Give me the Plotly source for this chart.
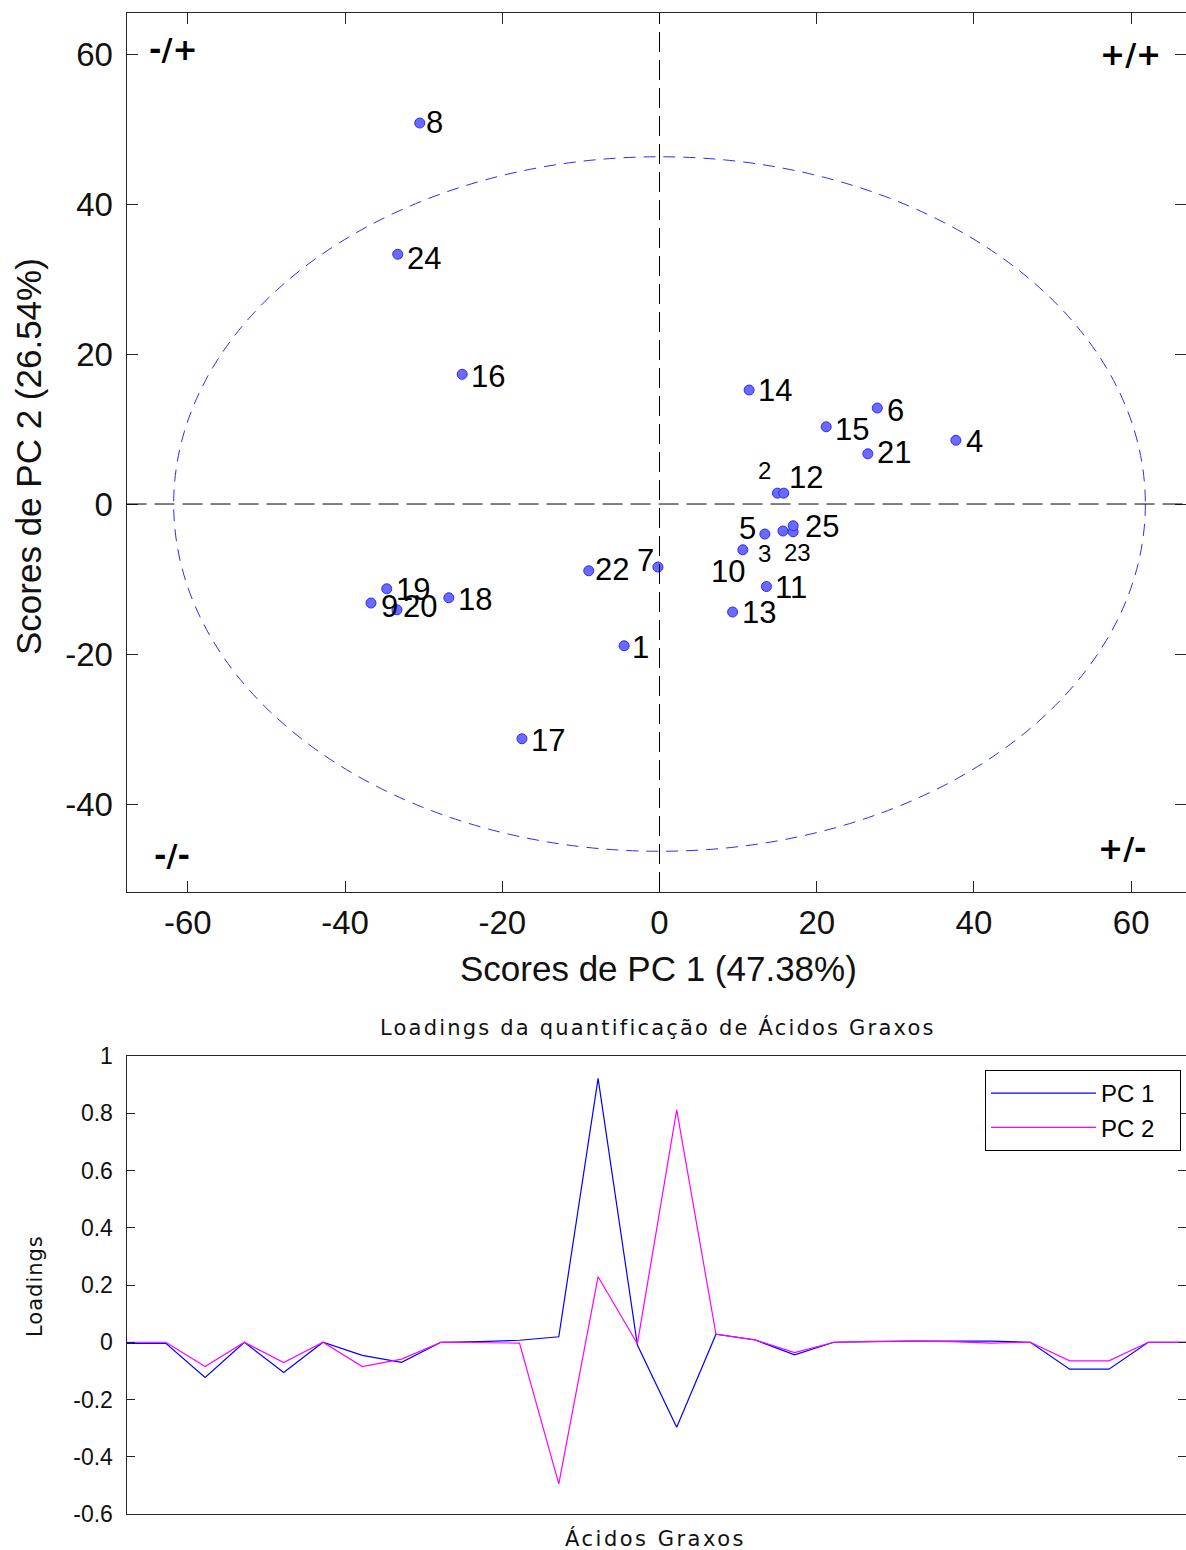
import plotly.graph_objects as go

# ---------------- data ----------------
sample_ids = [str(i) for i in range(1, 26)]
pc1_scores = [-4.5, 15.0, 15.7, 37.7, 13.4, 27.7, -0.2, -30.5, -36.7, 10.6,
              13.6, 15.8, 9.3, 11.4, 21.2, -25.1, -17.5, -26.8, -34.7, -33.4,
              26.5, -9.0, 17.0, -33.3, 17.0]
pc2_scores = [-18.9, 1.45, -3.6, 8.5, -4.0, 12.8, -8.4, 50.8, -13.2, -6.1,
              -11.0, 1.45, -14.4, 15.2, 10.3, 17.3, -31.3, -12.5, -11.3, -14.1,
              6.7, -8.9, -3.7, 33.3, -2.9]

ellipse_half_axes = [61.8, 46.3]  # confidence ellipse (PC1, PC2)

variables = list(range(1, 29))
pc1_loadings = [-0.004, -0.004, -0.123, 0.0, -0.106, 0.0, -0.046, -0.070, 0.0, 0.002,
                0.007, 0.019, 0.922, -0.010, -0.297, 0.028, 0.008, -0.044, 0.0, 0.003,
                0.004, 0.004, 0.004, 0.0, -0.094, -0.094, 0.0, 0.0]
pc2_loadings = [0.0, 0.0, -0.085, 0.0, -0.071, 0.0, -0.085, -0.059, 0.0, -0.002,
                -0.003, -0.495, 0.229, -0.005, 0.812, 0.028, 0.008, -0.036, 0.0, 0.003,
                0.004, 0.002, -0.003, 0.0, -0.065, -0.065, 0.0, 0.0]

score_ticks = [-60, -40, -20, 0, 20, 40, 60]
score_yticks = [-40, -20, 0, 20, 40, 60]
loading_ticks = [-0.6, -0.4, -0.2, 0, 0.2, 0.4, 0.6, 0.8, 1]
loading_ticklabels = ["-0.6", "-0.4", "-0.2", "0", "0.2", "0.4", "0.6", "0.8", "1"]

# ---------------- style (label placement offsets in px: dx right, dy down) ----------------
label_offsets = {
    "1": (16, 2), "2": (-13, -23), "3": (-18, 22), "4": (19, 1), "5": (-17, -6),
    "6": (18, 2), "7": (-12, -7), "8": (15, -1), "9": (19, 3), "10": (-15, 22),
    "11": (25, 1), "12": (22, -16), "13": (26, 0), "14": (26, 0), "15": (26, 3),
    "16": (26, 2), "17": (26, 2), "18": (26, 2), "19": (26, 1), "20": (23, -3),
    "21": (26, -1), "22": (23, -1), "23": (4, 21), "24": (26, 4), "25": (29, 1),
}
small_labels = {"2", "3", "23"}

W, H = 1186, 1550
FONT = "Liberation Sans, Arial, sans-serif"
FONT2 = "DejaVu Sans, Verdana, sans-serif"
AX = "#262626"

x_dom = [126.5 / W, 1.0]
top_dom = [1 - 892 / H, 1 - 13 / H]
bot_dom = [1 - 1514 / H, 1 - 1056 / H]


def spaced(text, px):
    return '<span style="letter-spacing:%spx">%s</span>' % (px, text)


fig = go.Figure()

fig.add_trace(go.Scatter(
    x=pc1_scores, y=pc2_scores, mode="markers", xaxis="x", yaxis="y",
    marker=dict(size=10, color="#6a6aff", line=dict(color="#2a2aff", width=1)),
    showlegend=False, hoverinfo="skip"))

fig.add_trace(go.Scatter(
    x=variables, y=pc1_loadings, mode="lines", name="PC 1\u00a0\u00a0\u00a0", xaxis="x2", yaxis="y2",
    line=dict(color="#0000ff", width=1.2)))
fig.add_trace(go.Scatter(
    x=variables, y=pc2_loadings, mode="lines", name="PC 2\u00a0\u00a0\u00a0", xaxis="x2", yaxis="y2",
    line=dict(color="#ff00ff", width=1.2)))

shapes = [
    dict(type="circle", xref="x", yref="y",
         x0=-ellipse_half_axes[0], x1=ellipse_half_axes[0],
         y0=-ellipse_half_axes[1], y1=ellipse_half_axes[1],
         line=dict(color="#2b2bff", width=1, dash="12px,8px")),
    dict(type="line", xref="x", yref="y domain", x0=0, x1=0, y0=0, y1=1,
         line=dict(color="black", width=1, dash="20px,8px")),
    dict(type="line", xref="x domain", yref="y", x0=0, x1=1, y0=0, y1=0,
         line=dict(color="black", width=1, dash="20px,8px")),
]

annotations = []
for sid, xv, yv in zip(sample_ids, pc1_scores, pc2_scores):
    dx, dy = label_offsets[sid]
    annotations.append(dict(
        x=xv, y=yv, xref="x", yref="y", text=sid, showarrow=False,
        xanchor="center", yanchor="middle", xshift=dx, yshift=-dy,
        font=dict(family=FONT, size=24 if sid in small_labels else 31, color="black")))

quad = [("-/+", -61.8, 60.6), ("+/+", 59.9, 59.9), ("-/-", -62.0, -46.8), ("+/-", 58.9, -45.9)]
for t, qx, qy in quad:
    annotations.append(dict(x=qx, y=qy, xref="x", yref="y", text="<b>%s</b>" % t,
                            showarrow=False, xanchor="center", yanchor="middle",
                            font=dict(family=FONT2, size=30, color="black")))

annotations += [
    dict(x=658 / W, y=1 - 968 / H, xref="paper", yref="paper", text="Scores de PC 1 (47.38%)",
         showarrow=False, xanchor="center", yanchor="middle",
         font=dict(family=FONT, size=35, color="#111")),
    dict(x=28 / W, y=1 - 457 / H, xref="paper", yref="paper", text="Scores de PC 2 (26.54%)",
         showarrow=False, xanchor="center", yanchor="middle", textangle=-90,
         font=dict(family=FONT, size=35, color="#111")),
    dict(x=658 / W, y=1 - 1027 / H, xref="paper", yref="paper",
         text=spaced("Loadings da quantificação de Ácidos Graxos", 2.2),
         showarrow=False, xanchor="center", yanchor="middle",
         font=dict(family=FONT2, size=21, color="#111")),
    dict(x=655 / W, y=1 - 1538 / H, xref="paper", yref="paper",
         text=spaced("Ácidos Graxos", 2.5),
         showarrow=False, xanchor="center", yanchor="middle",
         font=dict(family=FONT2, size=21, color="#111")),
    dict(x=35 / W, y=1 - 1286 / H, xref="paper", yref="paper", text=spaced("Loadings", 1),
         showarrow=False, xanchor="center", yanchor="middle", textangle=-90,
         font=dict(family=FONT2, size=21, color="#111")),
]

axis_common = dict(showline=True, linecolor=AX, linewidth=1, mirror="ticks",
                   ticks="inside", tickcolor=AX, showgrid=False, zeroline=False,
                   automargin=False)

fig.update_layout(
    width=W, height=H,
    margin=dict(l=0, r=0, t=0, b=0, pad=0, autoexpand=False),
    paper_bgcolor="white", plot_bgcolor="white",
    shapes=shapes, annotations=annotations,
    xaxis=dict(domain=x_dom, anchor="y", range=[-67.8, 66.97],
               tickvals=score_ticks, ticktext=[str(v) for v in score_ticks],
               ticklen=11, ticklabelstandoff=1,
               tickfont=dict(family=FONT, size=33, color="#111"), **axis_common),
    yaxis=dict(domain=top_dom, anchor="x", range=[-51.73, 65.47],
               tickvals=score_yticks, ticktext=[str(v) for v in score_yticks],
               ticklen=11, ticklabelstandoff=6,
               tickfont=dict(family=FONT, size=33, color="#111"), **axis_common),
    xaxis2=dict(domain=x_dom, anchor="y2", range=[1, 27.96], showticklabels=False,
                showline=True, linecolor=AX, linewidth=1, mirror=True,
                ticks="", showgrid=False, zeroline=False, automargin=False),
    yaxis2=dict(domain=bot_dom, anchor="x2", range=[-0.6, 1.0],
                tickvals=loading_ticks, ticktext=loading_ticklabels,
                ticklen=8, ticklabelstandoff=8,
                tickfont=dict(family=FONT, size=23, color="#111"), **axis_common),
    legend=dict(x=985 / W, y=1 - 1070 / H, xanchor="left", yanchor="top",
                bgcolor="white", bordercolor="black", borderwidth=1,
                font=dict(family=FONT, size=24, color="black"),
                itemwidth=105, tracegroupgap=0),
    showlegend=True,
)

fig.write_html("out.html")
